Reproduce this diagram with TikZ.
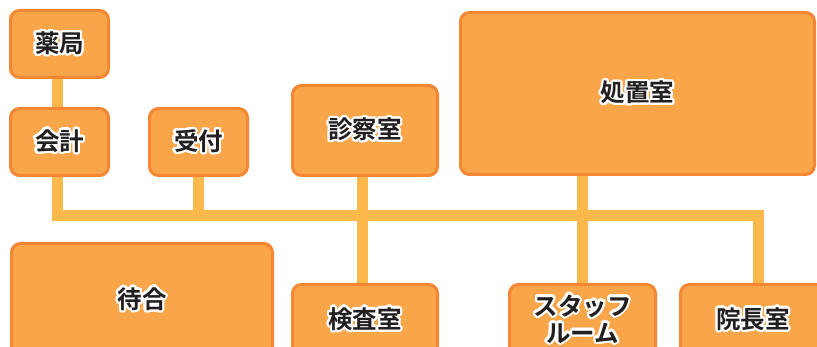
\documentclass[tikz,border=0pt]{standalone}
\usepackage{fontspec}
\usepackage[copies]{contour}
\usetikzlibrary{calc}
\newfontfamily\jpfont{Noto Sans CJK JP}[BoldFont={* Bold}]
\contourlength{2.2pt}
\contournumber{24}
\definecolor{roomfill}{HTML}{F9A64B}
\definecolor{roomedge}{HTML}{F58634}
\definecolor{connc}{HTML}{FBB84B}
\definecolor{txt}{HTML}{231F20}
\pgfdeclarelayer{bg}
\pgfsetlayers{bg,main}
\tikzset{
  room/.style={draw=roomedge, fill=roomfill, line width=3pt, rounded corners=9pt,
    inner sep=0pt, text=txt, align=center,
    font=\jpfont\bfseries\fontsize{24.5}{28}\selectfont},
  conn/.style={draw=connc, line width=11pt, line join=miter}
}
\newcommand{\rl}[1]{\contour{white}{#1}}
\begin{document}
\begin{tikzpicture}[x=1pt,y=-1pt]
\useasboundingbox (0,0) rectangle (817,347);
\clip (0,0) rectangle (817,347);
\node[room, minimum width=98pt, minimum height=67pt] (yaku) at (59.5,44) {\rl{薬局}};
\node[room, minimum width=98pt, minimum height=67pt] (kaikei) at (59.5,142) {\rl{会計}};
\node[room, minimum width=98pt, minimum height=67pt] (uke) at (198.5,142) {\rl{受付}};
\node[room, minimum width=145pt, minimum height=90pt] (shin) at (365,130.5) {\rl{診察室}};
\node[room, minimum width=354pt, minimum height=162pt] (sho) at (637.5,93.5) {\rl{処置室}};
\node[room, minimum width=261pt, minimum height=113pt] (machi) at (142,300) {\rl{待合}};
\node[room, minimum width=145pt, minimum height=71pt] (ken) at (365,320) {\rl{検査室}};
\node[room, minimum width=146pt, minimum height=71pt] (staff) at (582.5,320) {\rl{スタッフ}\\[-1pt]\rl{ルーム}};
\node[room, minimum width=145pt, minimum height=71pt] (incho) at (753,320) {\rl{院長室}};
\coordinate (bus) at (0,215.5);
\coordinate (inchoTop) at ($(incho.north)+(5,0)$);
\begin{pgfonlayer}{bg}
\draw[conn] ([xshift=-2pt]yaku.south) -- ([xshift=-2pt]kaikei.north);
\draw[conn] ([xshift=-2pt]kaikei.south) |- (bus -| inchoTop) -- (inchoTop);
\draw[conn] (uke.south) -- (uke.south |- bus);
\draw[conn] ([xshift=-3pt]shin.south) -- ([xshift=-3pt]ken.north);
\draw[conn] (staff.north |- sho.south) -- (staff.north);
\end{pgfonlayer}
\end{tikzpicture}
\end{document}
